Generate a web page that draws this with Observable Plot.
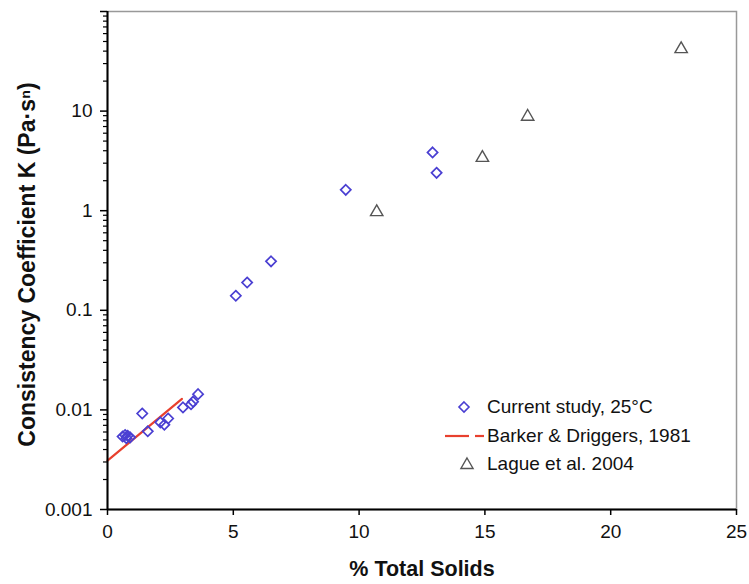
<!DOCTYPE html>
<html>
<head>
<meta charset="utf-8">
<script src="https://cdn.jsdelivr.net/npm/d3@7"></script>
<script src="https://cdn.jsdelivr.net/npm/@observablehq/plot@0.6"></script>
<style>
  html, body { margin: 0; padding: 0; background: #fff; }
  #wrap { position: relative; width: 749px; height: 584px; font-family: "Liberation Sans", Arial, sans-serif; }
  #legend { position: absolute; left: 440px; top: 393px; font-size: 19px; color: #111; }
  #legend .row { display: flex; align-items: center; height: 28.5px; }
  #legend svg { width: 46px; height: 20px; margin-right: 1px; }
</style>
</head>
<body>
<div id="wrap"></div>
<script>
// Current study, 25°C
const currentX = [0.6, 0.7, 0.75, 0.8, 0.9, 1.38, 1.6, 2.1, 2.26, 2.41, 3.0, 3.32, 3.4, 3.6, 5.1, 5.55, 6.5, 9.47, 12.92, 13.08];
const currentK = [0.0054, 0.0056, 0.0052, 0.0055, 0.0053, 0.0092, 0.0061, 0.0075, 0.0071, 0.0082, 0.0106, 0.0114, 0.0121, 0.0144, 0.14, 0.19, 0.31, 1.62, 3.85, 2.4];
// Lague et al. 2004
const lagueX = [10.7, 14.9, 16.7, 22.8];
const lagueK = [0.97, 3.4, 8.8, 42];
// Barker & Driggers, 1981
const barkerX = [0, 2.96];
const barkerK = [0.0031, 0.0129];

const xTicks = [0, 5, 10, 15, 20, 25];
const yMajor = [0.001, 0.01, 0.1, 1, 10, 100];
const yLabels = ["0.001", "0.01", "0.1", "1", "10", ""];

const current = currentX.map((x, i) => ({x, k: currentK[i]}));
const lague = lagueX.map((x, i) => ({x, k: lagueK[i]}));
const barker = barkerX.map((x, i) => ({x, k: barkerK[i]}));
const yMinor = [];
for (let e = -3; e < 2; e++) for (let m = 2; m <= 9; m++) yMinor.push(m * Math.pow(10, e));

const blue = "#4a3fd2";
const grey = "#555";
const red = "#e8402e";

const chart = Plot.plot({
  width: 749,
  height: 584,
  marginLeft: 107,
  marginRight: 13,
  marginTop: 11,
  marginBottom: 75,
  style: { fontFamily: "Liberation Sans, Arial, sans-serif", fontSize: "19px", color: "#111", background: "#fff" },
  x: { domain: [0, 25] },
  y: { type: "log", domain: [0.001, 100] },
  marks: [
    Plot.frame({ stroke: "#999", strokeWidth: 1.5 }),
    Plot.line(barker, { x: "x", y: "k", stroke: red, strokeWidth: 2.2 }),
    Plot.dot(current, { x: "x", y: "k", symbol: "diamond2", r: 4.6, stroke: blue, fill: "none", strokeWidth: 1.7 }),
    Plot.dot(lague, { x: "x", y: "k", symbol: "triangle", r: 4.6, stroke: grey, fill: "none", strokeWidth: 1.4 }),
    Plot.ruleX([0], { stroke: "#000", strokeWidth: 2 }),
    Plot.ruleY([0.001], { stroke: "#000", strokeWidth: 2 }),
    Plot.axisX({ ticks: xTicks, tickSize: 6, tickPadding: 9, tickFormat: d => String(d), label: null, stroke: "#000", strokeWidth: 1.5, fontSize: 19 }),
    Plot.axisY({ ticks: yMajor, tickSize: 7, tickPadding: 8, tickFormat: d => yLabels[yMajor.indexOf(d)], label: null, stroke: "#000", strokeWidth: 1.5, fontSize: 19 }),
    Plot.axisY({ ticks: yMinor, tickSize: 4, tickFormat: () => "", label: null, stroke: "#000", strokeWidth: 1.2 }),
    Plot.text(["% Total Solids"], { frameAnchor: "bottom", dy: 66, fontWeight: "bold", fontSize: 21.5, fill: "#111" }),
    Plot.text(["Consistency Coefficient K (Pa·sⁿ)"], { frameAnchor: "left", textAnchor: "middle", dx: -80, dy: 4, rotate: -90, fontWeight: "bold", fontSize: 23, fill: "#111" })
  ]
});

const wrap = document.getElementById("wrap");
wrap.appendChild(chart);

const legend = document.createElement("div");
legend.id = "legend";
const d3diamond = d3.symbol(d3.symbolDiamond2, 64)();
const d3tri = d3.symbol(d3.symbolTriangle, 64)();
legend.innerHTML = `
  <div class="row"><svg><path d="${d3diamond}" transform="translate(24,10)" fill="none" stroke="${blue}" stroke-width="1.6"/></svg><span>Current study, 25°C</span></div>
  <div class="row"><svg><line x1="5" x2="29" y1="10" y2="10" stroke="${red}" stroke-width="2.2"/><line x1="35" x2="44" y1="10" y2="10" stroke="${red}" stroke-width="2.2"/></svg><span>Barker &amp; Driggers, 1981</span></div>
  <div class="row"><svg><path d="${d3tri}" transform="translate(27,11)" fill="none" stroke="${grey}" stroke-width="1.4"/></svg><span>Lague et al. 2004</span></div>`;
wrap.appendChild(legend);
</script>
</body>
</html>
